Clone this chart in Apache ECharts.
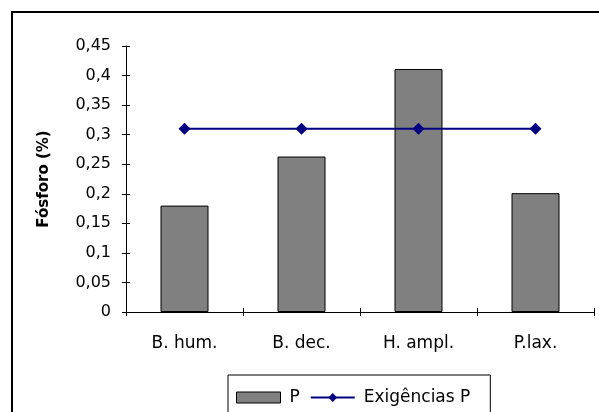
<!DOCTYPE html>
<html>
<head>
<meta charset="utf-8">
<script src="https://cdn.jsdelivr.net/npm/echarts@6/dist/echarts.min.js"></script>
<style>html,body{margin:0;padding:0;background:#fff}#c{width:599px;height:412px}</style>
</head>
<body>
<div id="c"></div>
<script>
const categories = ['B. hum.', 'B. dec.', 'H. ampl.', 'P.lax.'];
const valuesP = [0.18, 0.263, 0.411, 0.201];
const valuesExig = [0.31, 0.31, 0.31, 0.31];
const yMin = 0, yMax = 0.45, yStep = 0.05;

const FONT = 'DejaVu Sans';
const chart = echarts.init(document.getElementById('c'), null, {renderer: 'canvas'});
const fmt = v => String(+v.toFixed(2)).replace('.', ',');

chart.setOption({
  animation: false,
  backgroundColor: '#fff',
  grid: {left: 126, right: 5, top: 46, bottom: 100, containLabel: false},
  xAxis: [{
    type: 'category', data: categories, position: 'bottom',
    axisLine: {lineStyle: {color: '#000', width: 1}},
    axisTick: {show: true, inside: false, length: 4, lineStyle: {color: '#000'}},
    axisLabel: {color: '#000', fontFamily: FONT, fontSize: 17, margin: 23}
  }, {
    type: 'category', data: categories, position: 'bottom', offset: -4, z: 10,
    axisLine: {show: false},
    axisTick: {show: true, inside: false, length: 8, lineStyle: {color: '#000', width: 1}},
    axisLabel: {show: false}
  }],
  yAxis: [{
    type: 'value', min: yMin, max: yMax, interval: yStep, position: 'left',
    name: 'Fósforo (%)', nameLocation: 'middle', nameGap: 74,
    nameTextStyle: {color: '#000', fontFamily: FONT, fontWeight: 'bold', fontSize: 15},
    axisLine: {show: true, lineStyle: {color: '#000', width: 1}},
    axisTick: {show: true, inside: false, length: 4, lineStyle: {color: '#000'}},
    axisLabel: {color: '#000', fontFamily: FONT, fontSize: 16, margin: 15, formatter: fmt},
    splitLine: {show: false}
  }, {
    type: 'value', min: yMin, max: yMax, interval: yStep, position: 'left', offset: -4,
    axisLine: {show: false},
    axisTick: {show: true, inside: false, length: 8, lineStyle: {color: '#000'}},
    axisLabel: {show: false},
    splitLine: {show: false}
  }],
  legend: {
    left: 228, top: 375,
    padding: [14, 20, 30, 8],
    borderColor: '#000', borderWidth: 1,
    itemWidth: 44, itemHeight: 11, itemGap: 10,
    textStyle: {color: '#000', fontFamily: FONT, fontSize: 17, padding: [0, 0, 0, 4]},
    data: [
      {name: 'P', icon: 'rect', itemStyle: {color: '#808080', borderColor: '#000', borderWidth: 1}},
      {name: 'Exigências P'}
    ]
  },
  series: [{
    name: 'P', type: 'bar', data: valuesP, barWidth: 48,
    itemStyle: {color: '#808080', borderColor: '#000', borderWidth: 1}
  }, {
    name: 'Exigências P', type: 'line', data: valuesExig,
    symbol: 'diamond', symbolSize: 12,
    lineStyle: {color: '#000080', width: 2},
    itemStyle: {color: '#000080'}
  }],
  graphic: [{
    type: 'rect', silent: true, z: 100,
    shape: {x: 12, y: 12, width: 700, height: 500},
    style: {fill: null, stroke: '#000', lineWidth: 2}
  }]
});
</script>
</body>
</html>
